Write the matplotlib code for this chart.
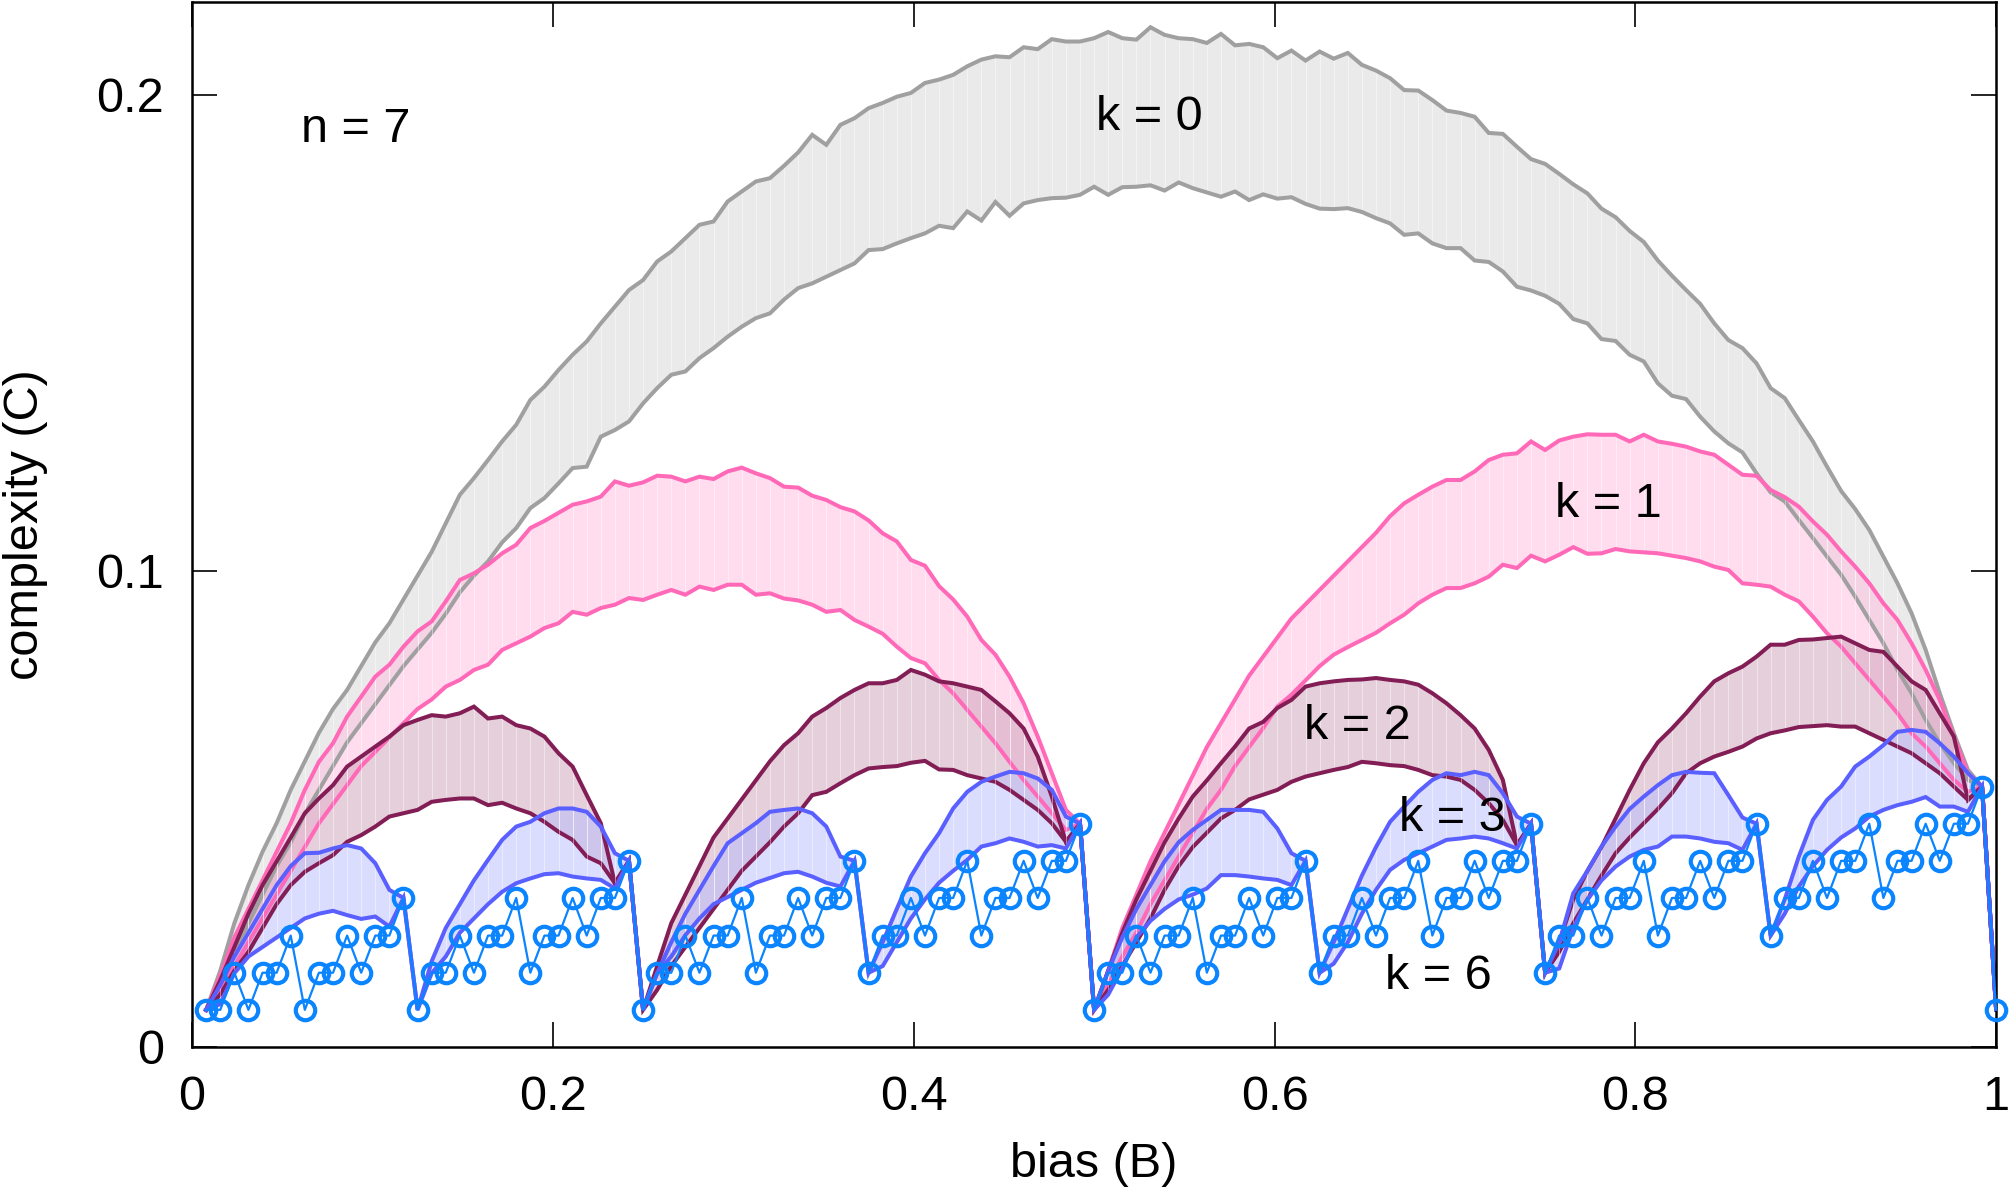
import matplotlib
matplotlib.use("Agg")
import matplotlib.pyplot as plt
import numpy as np

plt.rcParams['font.family'] = ['Liberation Sans', 'DejaVu Sans']

# bias grid B = i/128, i = 1..128 (n = 7)
bias = np.arange(1, 129) / 128

# k = 0 band (gray)
gray_hi = [0.0078, 0.016, 0.026, 0.034, 0.041, 0.047, 0.054, 0.060, 0.066, 0.071, 0.075, 0.080, 0.085, 0.089, 0.094, 0.099,
           0.104, 0.110, 0.116, 0.1195, 0.1233, 0.1272, 0.1307, 0.1359, 0.1387, 0.1422, 0.1454, 0.1482, 0.1520, 0.1555, 0.1590, 0.1611,
           0.1650, 0.1671, 0.1699, 0.1727, 0.1734, 0.1776, 0.1797, 0.1818, 0.1825, 0.1851, 0.1879, 0.1916, 0.1895, 0.1937, 0.1951, 0.1972,
           0.1983, 0.1996, 0.2004, 0.2025, 0.2032, 0.2042, 0.2060, 0.2074, 0.2081, 0.2079, 0.2100, 0.2096, 0.2117, 0.2112, 0.2112, 0.2119,
           0.2132, 0.2119, 0.2116, 0.2142, 0.2126, 0.2119, 0.2117, 0.2109, 0.2128, 0.2104, 0.2107, 0.2100, 0.2077, 0.2093, 0.2072, 0.2091,
           0.2076, 0.2088, 0.2063, 0.2051, 0.2035, 0.2010, 0.2009, 0.1989, 0.1967, 0.1962, 0.1954, 0.1920, 0.1918, 0.1891, 0.1865, 0.1855,
           0.1834, 0.1812, 0.1793, 0.1761, 0.1743, 0.1714, 0.1691, 0.1652, 0.1620, 0.1590, 0.1561, 0.1520, 0.1485, 0.1468, 0.1436, 0.1384,
           0.1363, 0.1317, 0.1272, 0.1219, 0.1168, 0.1130, 0.1086, 0.1030, 0.0974, 0.0911, 0.0834, 0.0743, 0.0659, 0.0582, 0.0547, 0.0078]
gray_lo = [0.0078, 0.014, 0.020, 0.026, 0.032, 0.038, 0.043, 0.049, 0.054, 0.059, 0.064, 0.068, 0.072, 0.076, 0.080, 0.0835,
           0.087, 0.091, 0.0955, 0.099, 0.102, 0.106, 0.109, 0.1132, 0.1153, 0.1184, 0.1216, 0.1219, 0.1282, 0.1296, 0.1314, 0.1352,
           0.1384, 0.1412, 0.1419, 0.1447, 0.1468, 0.1492, 0.1513, 0.1531, 0.1541, 0.1570, 0.1594, 0.1604, 0.1618, 0.1632, 0.1646, 0.1674,
           0.1676, 0.1688, 0.1699, 0.1709, 0.1725, 0.1720, 0.1755, 0.1736, 0.1775, 0.1746, 0.1772, 0.1779, 0.1783, 0.1784, 0.1790, 0.1807,
           0.1790, 0.1806, 0.1807, 0.1810, 0.1799, 0.1816, 0.1804, 0.1795, 0.1786, 0.1797, 0.1779, 0.1791, 0.1782, 0.1785, 0.1771, 0.1761,
           0.1760, 0.1762, 0.1754, 0.1741, 0.1730, 0.1706, 0.1709, 0.1688, 0.1678, 0.1678, 0.1652, 0.1649, 0.1629, 0.1597, 0.1589, 0.1578,
           0.1561, 0.1529, 0.1520, 0.1487, 0.1483, 0.1454, 0.1440, 0.1394, 0.1368, 0.1361, 0.1324, 0.1293, 0.1268, 0.1249, 0.1205, 0.1165,
           0.1146, 0.1107, 0.1069, 0.1030, 0.0992, 0.0946, 0.0897, 0.0848, 0.0792, 0.0743, 0.0687, 0.0638, 0.0596, 0.0561, 0.0547, 0.0078]

# k = 1 band (pink)
pink_hi = [0.0078, 0.015, 0.023, 0.029, 0.035, 0.041, 0.047, 0.054, 0.0599, 0.0638, 0.0694, 0.0736, 0.0778, 0.0803, 0.0841, 0.0873,
           0.0894, 0.0936, 0.0981, 0.0995, 0.1013, 0.1037, 0.1055, 0.1090, 0.1105, 0.1122, 0.1139, 0.1146, 0.1156, 0.1188, 0.1179, 0.1186,
           0.1200, 0.1198, 0.1188, 0.1198, 0.1193, 0.1209, 0.1217, 0.1205, 0.1195, 0.1177, 0.1175, 0.1158, 0.1149, 0.1134, 0.1125, 0.1106,
           0.1079, 0.1062, 0.1023, 0.1011, 0.0968, 0.0940, 0.0904, 0.0855, 0.0824, 0.0778, 0.0722, 0.0652, 0.0575, 0.0498, 0.0469, 0.0078,
           0.016, 0.025, 0.032, 0.039, 0.045, 0.051, 0.057, 0.063, 0.068, 0.073, 0.078, 0.082, 0.086, 0.090, 0.093, 0.096,
           0.099, 0.102, 0.105, 0.108, 0.1115, 0.1142, 0.1160, 0.1177, 0.1191, 0.1191, 0.1209, 0.1233, 0.1244, 0.1247, 0.1272, 0.1254,
           0.1274, 0.1282, 0.1287, 0.1286, 0.1286, 0.1272, 0.1286, 0.1272, 0.1267, 0.1261, 0.1251, 0.1244, 0.1223, 0.1202, 0.1200, 0.1170,
           0.1155, 0.1135, 0.1104, 0.1076, 0.1041, 0.1009, 0.0974, 0.0932, 0.0897, 0.0848, 0.0792, 0.0729, 0.0652, 0.0575, 0.0547, 0.0078]
pink_lo = [0.0078, 0.012, 0.017, 0.022, 0.027, 0.032, 0.037, 0.042, 0.047, 0.051, 0.055, 0.059, 0.062, 0.065, 0.068, 0.071,
           0.073, 0.0757, 0.0771, 0.0792, 0.0803, 0.0834, 0.0848, 0.0862, 0.0880, 0.0890, 0.0914, 0.0908, 0.0922, 0.0929, 0.0943, 0.0939,
           0.0950, 0.0960, 0.0950, 0.0967, 0.0960, 0.0971, 0.0971, 0.0950, 0.0953, 0.0942, 0.0938, 0.0929, 0.0914, 0.0918, 0.0897, 0.0883,
           0.0868, 0.0841, 0.0817, 0.0806, 0.0771, 0.0743, 0.0708, 0.0673, 0.0638, 0.0599, 0.0561, 0.0526, 0.0491, 0.0456, 0.0469, 0.0078,
           0.013, 0.019, 0.024, 0.030, 0.035, 0.040, 0.045, 0.050, 0.054, 0.059, 0.063, 0.067, 0.0715, 0.074, 0.077, 0.080,
           0.0824, 0.084, 0.0855, 0.087, 0.0890, 0.0908, 0.0932, 0.0950, 0.0964, 0.0964, 0.0974, 0.0988, 0.1013, 0.1006, 0.1032, 0.1020,
           0.1034, 0.1050, 0.1036, 0.1037, 0.1046, 0.1041, 0.1039, 0.1037, 0.1032, 0.1027, 0.1020, 0.1009, 0.1002, 0.0974, 0.0971, 0.0967,
           0.0950, 0.0936, 0.0904, 0.0869, 0.0841, 0.0806, 0.0771, 0.0736, 0.0701, 0.0659, 0.0631, 0.0596, 0.0561, 0.0536, 0.0547, 0.0078]

# k = 2 band (maroon)
maroon_hi = [0.0078, 0.014, 0.021, 0.028, 0.034, 0.039, 0.044, 0.0491, 0.0522, 0.0550, 0.0589, 0.0610, 0.0631, 0.0652, 0.0676, 0.0687,
             0.0697, 0.0694, 0.0701, 0.0715, 0.0690, 0.0694, 0.0676, 0.0669, 0.0652, 0.0617, 0.0589, 0.0529, 0.0470, 0.0344, 0.0391, 0.0078,
             0.017, 0.026, 0.032, 0.038, 0.044, 0.048, 0.052, 0.056, 0.060, 0.0634, 0.0659, 0.0694, 0.0712, 0.0733, 0.0750, 0.0764,
             0.0764, 0.0771, 0.0792, 0.0782, 0.0768, 0.0764, 0.0757, 0.0750, 0.0726, 0.0701, 0.0669, 0.0610, 0.0526, 0.0431, 0.0469, 0.0078,
             0.016, 0.024, 0.031, 0.037, 0.043, 0.048, 0.0526, 0.056, 0.0596, 0.0631, 0.0669, 0.0683, 0.0712, 0.0729, 0.0757, 0.0764,
             0.0768, 0.0771, 0.0772, 0.0775, 0.0771, 0.0768, 0.0761, 0.0743, 0.0722, 0.0697, 0.0669, 0.0624, 0.0561, 0.0424, 0.0469, 0.0156,
             0.022, 0.031, 0.037, 0.042, 0.048, 0.054, 0.0596, 0.064, 0.0669, 0.0701, 0.0736, 0.0768, 0.0785, 0.0799, 0.0820, 0.0845,
             0.0845, 0.0855, 0.0856, 0.0859, 0.0862, 0.0848, 0.0834, 0.0830, 0.0799, 0.0768, 0.0750, 0.0701, 0.0652, 0.0519, 0.0547, 0.0078]
maroon_lo = [0.0078, 0.011, 0.016, 0.020, 0.025, 0.030, 0.034, 0.0368, 0.0386, 0.0403, 0.0431, 0.0445, 0.0463, 0.0484, 0.0491, 0.0498,
             0.0515, 0.0519, 0.0522, 0.0522, 0.0508, 0.0513, 0.0501, 0.0491, 0.0473, 0.0452, 0.0435, 0.0400, 0.0386, 0.0344, 0.0391, 0.0078,
             0.012, 0.017, 0.021, 0.025, 0.029, 0.033, 0.037, 0.040, 0.043, 0.0463, 0.0491, 0.0529, 0.0536, 0.0554, 0.0571, 0.0585,
             0.0588, 0.0590, 0.0597, 0.0601, 0.0583, 0.0582, 0.0571, 0.0564, 0.0557, 0.0540, 0.0519, 0.0498, 0.0470, 0.0431, 0.0469, 0.0078,
             0.012, 0.017, 0.022, 0.027, 0.033, 0.038, 0.042, 0.045, 0.048, 0.0498, 0.052, 0.053, 0.0540, 0.0557, 0.0568, 0.0575,
             0.0582, 0.0588, 0.0599, 0.0596, 0.0592, 0.0590, 0.0582, 0.0571, 0.0568, 0.0561, 0.0540, 0.0512, 0.0477, 0.0424, 0.0469, 0.0156,
             0.020, 0.026, 0.031, 0.036, 0.0407, 0.044, 0.047, 0.050, 0.0533, 0.0575, 0.0596, 0.0610, 0.0620, 0.0631, 0.0648, 0.0659,
             0.0665, 0.0672, 0.0674, 0.0676, 0.0673, 0.0673, 0.0659, 0.0645, 0.0631, 0.0617, 0.0596, 0.0575, 0.0547, 0.0519, 0.0547, 0.0078]

# k = 3 band (blue)
blue_hi = [0.0078, 0.013, 0.019, 0.024, 0.029, 0.034, 0.038, 0.0407, 0.0408, 0.0417, 0.0424, 0.0417, 0.0386, 0.0330, 0.0313, 0.0078,
           0.018, 0.025, 0.030, 0.035, 0.0393, 0.0435, 0.0463, 0.0473, 0.0491, 0.0501, 0.0501, 0.0494, 0.0463, 0.0407, 0.0391, 0.0078,
           0.0155, 0.022, 0.028, 0.033, 0.038, 0.0428, 0.0449, 0.0470, 0.0494, 0.0498, 0.0501, 0.0491, 0.0463, 0.0400, 0.0391, 0.0156,
           0.022, 0.029, 0.0358, 0.0407, 0.0449, 0.0501, 0.0536, 0.0557, 0.0568, 0.0578, 0.0575, 0.0564, 0.0540, 0.0484, 0.0469, 0.0078,
           0.016, 0.023, 0.029, 0.034, 0.039, 0.043, 0.0456, 0.0477, 0.0498, 0.0498, 0.0498, 0.0494, 0.0459, 0.0407, 0.0391, 0.0156,
           0.022, 0.029, 0.036, 0.042, 0.0473, 0.0505, 0.0536, 0.0561, 0.0575, 0.0571, 0.0578, 0.0571, 0.0533, 0.0484, 0.0469, 0.0156,
           0.022, 0.0323, 0.037, 0.0421, 0.0463, 0.050, 0.0526, 0.055, 0.0571, 0.0578, 0.0576, 0.0575, 0.0529, 0.0482, 0.0469, 0.0234,
           0.031, 0.040, 0.0477, 0.0519, 0.0547, 0.0589, 0.0610, 0.0634, 0.0662, 0.0666, 0.0662, 0.0638, 0.0610, 0.0575, 0.0547, 0.0078]
blue_lo = [0.0078, 0.009, 0.0155, 0.019, 0.021, 0.023, 0.025, 0.027, 0.028, 0.0286, 0.0277, 0.0269, 0.0274, 0.0253, 0.0313, 0.0078,
           0.0155, 0.019, 0.024, 0.027, 0.030, 0.0326, 0.0344, 0.0354, 0.0363, 0.0365, 0.0358, 0.0354, 0.0351, 0.0333, 0.0391, 0.0078,
           0.0155, 0.019, 0.0235, 0.027, 0.030, 0.0315, 0.033, 0.0345, 0.0355, 0.0365, 0.0368, 0.0358, 0.0345, 0.0337, 0.0391, 0.0156,
           0.017, 0.022, 0.027, 0.031, 0.0345, 0.037, 0.0393, 0.0421, 0.0428, 0.0438, 0.0431, 0.0421, 0.0424, 0.0417, 0.0469, 0.0078,
           0.011, 0.0165, 0.023, 0.0265, 0.029, 0.031, 0.032, 0.0333, 0.0361, 0.0361, 0.0358, 0.0354, 0.0351, 0.0340, 0.0391, 0.0156,
           0.0175, 0.022, 0.028, 0.033, 0.0372, 0.0393, 0.0407, 0.0421, 0.0435, 0.0438, 0.0442, 0.0438, 0.0428, 0.0417, 0.0469, 0.0156,
           0.0165, 0.025, 0.0309, 0.035, 0.0379, 0.040, 0.0414, 0.0421, 0.0442, 0.0442, 0.0438, 0.0431, 0.0428, 0.0414, 0.0469, 0.0234,
           0.028, 0.0337, 0.038, 0.0414, 0.044, 0.0459, 0.0484, 0.0498, 0.0508, 0.0515, 0.0525, 0.0505, 0.0505, 0.0494, 0.0547, 0.0078]

# k = 6 (single curve with circles)
k6_c = [0.0078, 0.0078, 0.0156, 0.0078, 0.0156, 0.0156, 0.0234, 0.0078, 0.0156, 0.0156, 0.0234, 0.0156, 0.0234, 0.0234, 0.0313, 0.0078,
        0.0156, 0.0156, 0.0234, 0.0156, 0.0234, 0.0234, 0.0313, 0.0156, 0.0234, 0.0234, 0.0313, 0.0234, 0.0313, 0.0313, 0.0391, 0.0078,
        0.0156, 0.0156, 0.0234, 0.0156, 0.0234, 0.0234, 0.0313, 0.0156, 0.0234, 0.0234, 0.0313, 0.0234, 0.0313, 0.0313, 0.0391, 0.0156,
        0.0234, 0.0234, 0.0313, 0.0234, 0.0313, 0.0313, 0.0391, 0.0234, 0.0313, 0.0313, 0.0391, 0.0313, 0.0391, 0.0391, 0.0469, 0.0078,
        0.0156, 0.0156, 0.0234, 0.0156, 0.0234, 0.0234, 0.0313, 0.0156, 0.0234, 0.0234, 0.0313, 0.0234, 0.0313, 0.0313, 0.0391, 0.0156,
        0.0234, 0.0234, 0.0313, 0.0234, 0.0313, 0.0313, 0.0391, 0.0234, 0.0313, 0.0313, 0.0391, 0.0313, 0.0391, 0.0391, 0.0469, 0.0156,
        0.0234, 0.0234, 0.0313, 0.0234, 0.0313, 0.0313, 0.0391, 0.0234, 0.0313, 0.0313, 0.0391, 0.0313, 0.0391, 0.0391, 0.0469, 0.0234,
        0.0313, 0.0313, 0.0391, 0.0313, 0.0391, 0.0391, 0.0469, 0.0313, 0.0391, 0.0391, 0.0469, 0.0391, 0.0469, 0.0469, 0.0547, 0.0078]

x_ticks = [0, 0.2, 0.4, 0.6, 0.8, 1]
x_ticklabels = ['0', '0.2', '0.4', '0.6', '0.8', '1']
y_ticks = [0, 0.1, 0.2]
y_ticklabels = ['0', '0.1', '0.2']

fig = plt.figure(figsize=(20.09, 11.88), dpi=100)
ax = fig.add_axes([0.0956, 0.1187, 0.8980, 0.8796])


def band(lo, hi, line_color, fill_color):
    ax.fill_between(bias, lo, hi, color=fill_color, alpha=0.5, lw=0)
    # faint seams between the slices, as in the original rendering
    ax.vlines(bias, lo, hi, colors='white', lw=0.7, alpha=0.45)
    ax.plot(bias, hi, color=line_color, lw=2.9, solid_joinstyle='miter')
    ax.plot(bias, lo, color=line_color, lw=2.9, solid_joinstyle='miter')


band(gray_lo, gray_hi, '#a0a0a0', '#d7d7d7')
band(pink_lo, pink_hi, '#ff69b8', '#ffbddf')
band(maroon_lo, maroon_hi, '#821e55', '#cda1b9')
band(blue_lo, blue_hi, '#5a5fff', '#b9bdff')

ax.plot(bias, k6_c, color='#0a84ff', lw=1.6, marker='o', ms=14, mfc='none',
        mec='#0a84ff', mew=3.0, clip_on=False, zorder=5)

fs = 35
dy = 0.0013
ax.text(0.0906, 0.194 - dy, 'n = 7', fontsize=fs, ha='center', va='center')
ax.text(0.5306, 0.1965 - dy, 'k = 0', fontsize=fs, ha='center', va='center')
ax.text(0.785, 0.1153 - dy, 'k = 1', fontsize=fs, ha='center', va='center')
ax.text(0.646, 0.0687 - dy, 'k = 2', fontsize=fs, ha='center', va='center')
ax.text(0.6985, 0.0492 - dy, 'k = 3', fontsize=fs, ha='center', va='center')
ax.text(0.6907, 0.0162 - dy, 'k = 6', fontsize=fs, ha='center', va='center')

ax.set_xlim(0, 1)
ax.set_ylim(0, 0.2195)
ax.set_xticks(x_ticks)
ax.set_xticklabels(x_ticklabels)
ax.set_yticks(y_ticks)
ax.set_yticklabels(y_ticklabels)
ax.tick_params(direction='in', length=18, width=1.2, top=True, right=True,
               labelsize=fs, pad=20)
for s in ax.spines.values():
    s.set_linewidth(1.8)

ax.set_xlabel('bias (B)', fontsize=fs)
ax.set_ylabel('complexity (C)', fontsize=fs)
ax.xaxis.set_label_coords(0.5, -0.091)
ax.yaxis.set_label_coords(-0.080, 0.5)

fig.savefig('out.png', dpi=100)
